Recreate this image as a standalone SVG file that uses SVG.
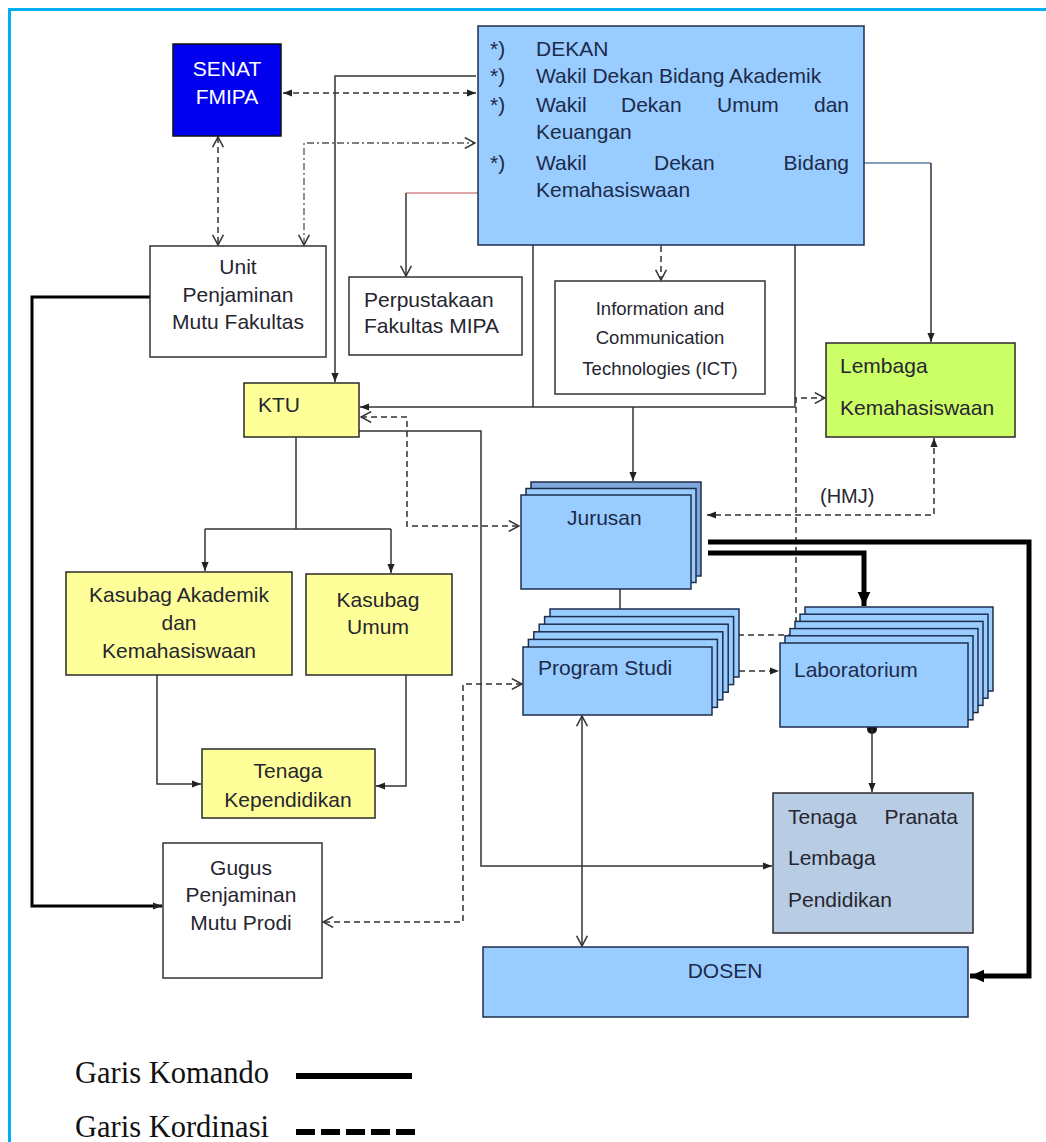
<svg xmlns="http://www.w3.org/2000/svg" width="1046" height="1142" viewBox="0 0 1046 1142">
<defs>
<style>
.t{font-family:"Liberation Sans",Arial,sans-serif;font-size:21px;fill:#262630}
.tn{font-family:"Liberation Sans",Arial,sans-serif;font-size:21px;fill:#1c2b4a}
.tc{text-anchor:middle}
.box{stroke:#2a2a2a;stroke-width:1.5}
.blue{fill:#99ccff;stroke:#1e2e4e;stroke-width:1.5}
.yel{fill:#ffff99;stroke:#2a2a2a;stroke-width:1.5}
.wht{fill:#ffffff;stroke:#333;stroke-width:1.5}
.ln{fill:none;stroke:#333;stroke-width:1.5}
.dash{fill:none;stroke:#333;stroke-width:1.5;stroke-dasharray:6 4}
.thick{fill:none;stroke:#000;stroke-width:5}
.leg{font-family:"Liberation Serif","Times New Roman",serif;font-size:30.5px;fill:#111}
</style>
<marker id="af" viewBox="0 0 10 10" refX="10" refY="5" markerWidth="9" markerHeight="9" markerUnits="userSpaceOnUse" orient="auto-start-reverse"><path d="M0,1 L10,5 L0,9 z" fill="#222"/></marker>
<marker id="ao" viewBox="0 0 10 10" refX="9.5" refY="5" markerWidth="12" markerHeight="12" markerUnits="userSpaceOnUse" orient="auto-start-reverse"><path d="M1,0.5 L9.5,5 L1,9.5" fill="none" stroke="#333" stroke-width="1.3"/></marker>
<marker id="ab" viewBox="0 0 10 10" refX="10" refY="5" markerWidth="14" markerHeight="14" markerUnits="userSpaceOnUse" orient="auto-start-reverse"><path d="M0,0.5 L10,5 L0,9.5 z" fill="#000"/></marker>
</defs>
<rect width="1046" height="1142" fill="#ffffff"/>
<path d="M8,9.5 H1046 M9.5,8 V1142" fill="none" stroke="#00b0f0" stroke-width="3"/>

<g id="connectors">
<path class="dash" d="M283,93 H476" marker-start="url(#af)" marker-end="url(#af)"/>
<path class="dash" d="M218,137 V245" marker-start="url(#ao)" marker-end="url(#ao)"/>
<path d="M304,245 V143 H475" fill="none" stroke="#555" stroke-width="1.3" stroke-dasharray="7 3 2 3" marker-start="url(#ao)" marker-end="url(#ao)"/>
<path class="ln" d="M476,76 H335 V382" marker-end="url(#af)"/>
<path d="M478,193 H406" fill="none" stroke="#d48a8a" stroke-width="1.5"/>
<path class="ln" d="M406,193 V276" marker-end="url(#ao)"/>
<path class="dash" d="M661,246 V280" marker-end="url(#ao)"/>
<path d="M864,163 H931" fill="none" stroke="#5b7fa6" stroke-width="1.5"/>
<path class="ln" d="M931,163 V342" marker-end="url(#af)"/>
<path class="ln" d="M533,245 V407"/>
<path class="ln" d="M795,245 V407 H360" marker-end="url(#af)"/>
<path class="ln" d="M633,407 V481" marker-end="url(#af)"/>
<path class="dash" d="M361,417 H407 V526 H519" marker-start="url(#ao)" marker-end="url(#ao)"/>
<path class="ln" d="M359,431 H481 V866 H772" marker-end="url(#af)"/>
<path class="ln" d="M296,437 V529 M205,529 H391"/>
<path class="ln" d="M205,529 V571" marker-end="url(#af)"/>
<path class="ln" d="M391,529 V573" marker-end="url(#af)"/>
<path class="ln" d="M157,675 V784 H201" marker-end="url(#af)"/>
<path class="ln" d="M406,675 V786 H376" marker-end="url(#af)"/>
<path d="M150,297 H32 V906 H162" fill="none" stroke="#000" stroke-width="3" marker-end="url(#af)"/>
<path class="dash" d="M522,684 H463 V922 H323" marker-start="url(#ao)" marker-end="url(#ao)"/>
<path class="ln" d="M620,589 V609"/>
<path class="dash" d="M719,671 H779" marker-start="url(#af)" marker-end="url(#af)"/>
<path class="dash" d="M738,635 H796 V398 H825" marker-end="url(#ao)"/>
<path class="dash" d="M934,438 V515 H707" marker-start="url(#af)" marker-end="url(#af)"/>
<path class="thick" d="M708,542 H1029 V976 H970" marker-end="url(#ab)"/>
<path class="thick" d="M708,553 H864 V606" marker-end="url(#ab)"/>
<circle cx="872" cy="729" r="5" fill="#111"/>
<path class="ln" d="M872,729 V792" marker-end="url(#af)"/>
<path class="ln" d="M582,716 V946" marker-start="url(#ao)" marker-end="url(#ao)"/>
</g>

<g id="senat">
<rect x="173" y="44" width="108" height="92" fill="#0000ee" stroke="#111" stroke-width="1.5"/>
<text class="t tc" x="227" y="76" style="fill:#ffffff">SENAT</text>
<text class="t tc" x="227" y="104" style="fill:#ffffff">FMIPA</text>
</g>

<g id="dekan">
<rect class="blue" x="478" y="26" width="386" height="219"/>
<text class="tn" x="490" y="56">*)</text>
<text class="tn" x="536" y="56">DEKAN</text>
<text class="tn" x="490" y="83">*)</text>
<text class="tn" x="536" y="83">Wakil Dekan Bidang Akademik</text>
<text class="tn" x="490" y="112">*)</text>
<text class="tn" x="536" y="112">Wakil</text>
<text class="tn" x="621" y="112">Dekan</text>
<text class="tn" x="717" y="112">Umum</text>
<text class="tn" x="849" y="112" text-anchor="end">dan</text>
<text class="tn" x="536" y="139">Keuangan</text>
<text class="tn" x="490" y="170">*)</text>
<text class="tn" x="536" y="170">Wakil</text>
<text class="tn" x="654" y="170">Dekan</text>
<text class="tn" x="849" y="170" text-anchor="end">Bidang</text>
<text class="tn" x="536" y="197">Kemahasiswaan</text>
</g>

<g id="unit-penjaminan">
<rect class="wht" x="150" y="246" width="176" height="111"/>
<text class="t tc" x="238" y="274">Unit</text>
<text class="t tc" x="238" y="302">Penjaminan</text>
<text class="t tc" x="238" y="329">Mutu Fakultas</text>
</g>

<g id="perpustakaan">
<rect class="wht" x="349" y="277" width="173" height="78"/>
<text class="t" x="364" y="307">Perpustakaan</text>
<text class="t" x="364" y="333">Fakultas MIPA</text>
</g>

<g id="ict">
<rect class="wht" x="555" y="281" width="210" height="113"/>
<text class="t tc" x="660" y="315" style="font-size:18.5px">Information and</text>
<text class="t tc" x="660" y="344" style="font-size:18.5px">Communication</text>
<text class="t tc" x="660" y="375" style="font-size:18.5px">Technologies (ICT)</text>
</g>

<g id="lembaga-kemahasiswaan">
<rect x="826" y="343" width="189" height="94" fill="#ccff66" stroke="#2a2a2a" stroke-width="1.5"/>
<text class="t" x="840" y="373">Lembaga</text>
<text class="t" x="840" y="415">Kemahasiswaan</text>
</g>

<g id="ktu">
<rect class="yel" x="244" y="383" width="115" height="54"/>
<text class="t" x="258" y="412">KTU</text>
</g>

<g id="jurusan">
<rect class="blue" x="531" y="482" width="170" height="94" style="fill:#7fa9dc"/>
<rect class="blue" x="526" y="488.5" width="170" height="94"/>
<rect class="blue" x="521" y="495" width="170" height="94"/>
<text class="tn" x="567" y="525">Jurusan</text>
</g>

<g id="hmj">
<text class="t" x="820" y="503" style="font-size:20px">(HMJ)</text>
</g>

<g id="kasubag-akademik">
<rect class="yel" x="66" y="572" width="226" height="103"/>
<text class="t tc" x="179" y="602">Kasubag Akademik</text>
<text class="t tc" x="179" y="630">dan</text>
<text class="t tc" x="179" y="658">Kemahasiswaan</text>
</g>

<g id="kasubag-umum">
<rect class="yel" x="306" y="574" width="146" height="101"/>
<text class="t tc" x="378" y="607">Kasubag</text>
<text class="t tc" x="378" y="634">Umum</text>
</g>

<g id="program-studi">
<rect class="blue" x="550" y="609" width="189" height="68"/>
<rect class="blue" x="544.6" y="616.6" width="189" height="68"/>
<rect class="blue" x="539.2" y="624.2" width="189" height="68"/>
<rect class="blue" x="533.8" y="631.8" width="189" height="68"/>
<rect class="blue" x="528.4" y="639.4" width="189" height="68"/>
<rect class="blue" x="523" y="647" width="189" height="68"/>
<text class="tn" x="538" y="675">Program Studi</text>
</g>

<g id="laboratorium">
<rect class="blue" x="805" y="607" width="188" height="84"/>
<rect class="blue" x="800" y="614.2" width="188" height="84"/>
<rect class="blue" x="795" y="621.4" width="188" height="84"/>
<rect class="blue" x="790" y="628.6" width="188" height="84"/>
<rect class="blue" x="785" y="635.8" width="188" height="84"/>
<rect class="blue" x="780" y="643" width="188" height="84"/>
<text class="tn" x="794" y="677">Laboratorium</text>
</g>

<g id="tenaga-kependidikan">
<rect class="yel" x="202" y="749" width="173" height="69"/>
<text class="t tc" x="288" y="778">Tenaga</text>
<text class="t tc" x="288" y="807">Kependidikan</text>
</g>

<g id="tenaga-pranata">
<rect x="773" y="793" width="200" height="140" fill="#b8cce4" stroke="#2a2a2a" stroke-width="1.5"/>
<text class="t" x="788" y="824">Tenaga</text>
<text class="t" x="958" y="824" text-anchor="end">Pranata</text>
<text class="t" x="788" y="865">Lembaga</text>
<text class="t" x="788" y="907">Pendidikan</text>
</g>

<g id="gugus">
<rect class="wht" x="163" y="843" width="159" height="135"/>
<text class="t tc" x="241" y="875">Gugus</text>
<text class="t tc" x="241" y="902">Penjaminan</text>
<text class="t tc" x="241" y="930">Mutu Prodi</text>
</g>

<g id="dosen">
<rect class="blue" x="483" y="947" width="485" height="70"/>
<text class="tn tc" x="725" y="978">DOSEN</text>
</g>

<g id="legend">
<text class="leg" x="75" y="1083">Garis Komando</text>
<path d="M296,1076 H412" stroke="#000" stroke-width="6"/>
<text class="leg" x="75" y="1137">Garis Kordinasi</text>
<path d="M296,1132 H416" stroke="#000" stroke-width="6" stroke-dasharray="19 6"/>
</g>
</svg>
